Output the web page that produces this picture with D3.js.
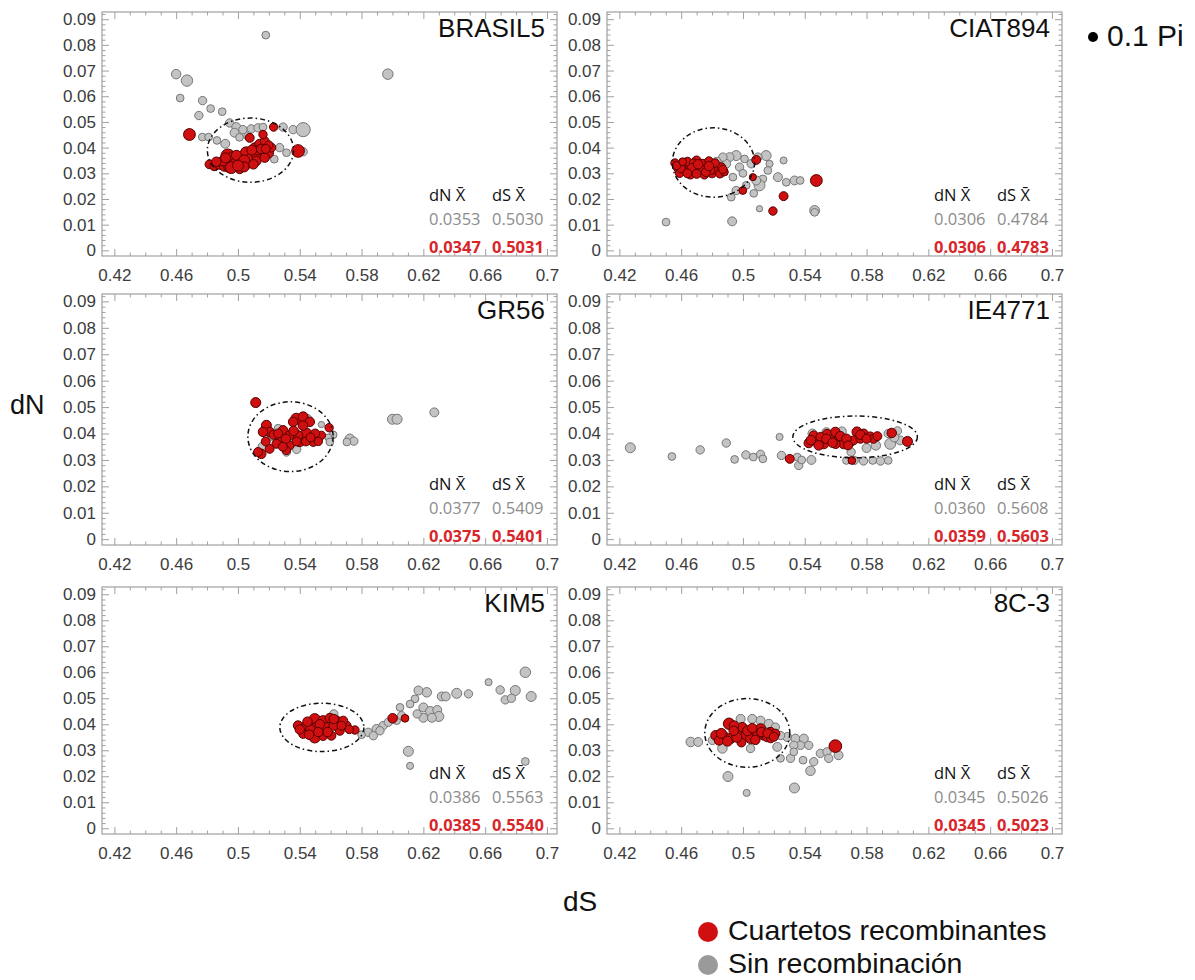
<!DOCTYPE html>
<html>
<head>
<meta charset="utf-8">
<script src="https://cdn.jsdelivr.net/npm/d3@7"></script>
<style>
  html, body { margin: 0; padding: 0; background: #fff; }
  svg { display: block; }
</style>
</head>
<body>
<svg id="chart" width="1195" height="980"></svg>
<script>
// ---------------- DATA ----------------
const panelNames = ["BRASIL5", "CIAT894", "GR56", "IE4771", "KIM5", "8C-3"];

const xTickValues = [0.42, 0.46, 0.50, 0.54, 0.58, 0.62, 0.66, 0.70];
const xTickLabels = ["0.42", "0.46", "0.5", "0.54", "0.58", "0.62", "0.66", "0.7"];
const yTickValues = [0, 0.01, 0.02, 0.03, 0.04, 0.05, 0.06, 0.07, 0.08, 0.09];
const yTickLabels = ["0", "0.01", "0.02", "0.03", "0.04", "0.05", "0.06", "0.07", "0.08", "0.09"];

// [dS, dN, Pi]
const sin_BRASIL5 = [[0.518,0.0838,0.06],[0.597,0.0686,0.11],[0.460,0.0686,0.09],[0.467,0.0661,0.13],[0.4626,0.0593,0.06],[0.4771,0.0583,0.07],[0.4823,0.0552,0.06],[0.4898,0.054,0.06],[0.4747,0.0525,0.07],[0.4769,0.0441,0.06],[0.481,0.0441,0.06],[0.4864,0.0428,0.06],[0.4918,0.0415,0.08],[0.4946,0.0496,0.07],[0.4989,0.048,0.08],[0.5032,0.047,0.07],[0.5086,0.0473,0.07],[0.513,0.0477,0.07],[0.5162,0.048,0.06],[0.5292,0.048,0.07],[0.5357,0.047,0.07],[0.5422,0.047,0.2],[0.4978,0.0458,0.08],[0.5065,0.0445,0.07],[0.527,0.040,0.07],[0.5314,0.038,0.06],[0.5422,0.0384,0.07],[0.4845,0.0325,0.06],[0.5235,0.0355,0.06],[0.5010,0.0440,0.06]];
const rec_BRASIL5 = [[0.4686,0.0451,0.14],[0.5389,0.0387,0.16],[0.5231,0.048,0.07],[0.4816,0.0335,0.08],[0.4849,0.0329,0.09],[0.4881,0.0335,0.1],[0.4914,0.0329,0.12],[0.4946,0.0325,0.14],[0.4935,0.0367,0.2],[0.4968,0.0361,0.14],[0.4989,0.0342,0.12],[0.5022,0.0355,0.1],[0.5054,0.038,0.14],[0.5086,0.0361,0.1],[0.5119,0.0374,0.1],[0.5108,0.040,0.09],[0.5141,0.0413,0.1],[0.5173,0.0425,0.08],[0.5162,0.0451,0.07],[0.5076,0.0438,0.08],[0.5195,0.038,0.12],[0.5216,0.040,0.08],[0.5011,0.0316,0.08],[0.5054,0.0335,0.1],[0.5119,0.0348,0.09],[0.5173,0.0361,0.09],[0.4957,0.0322,0.14],[0.4903,0.0348,0.1],[0.5130,0.0390,0.09],[0.5200,0.0410,0.07],[0.4860,0.0345,0.09],[0.4990,0.0370,0.1],[0.5040,0.0350,0.12],[0.5090,0.0390,0.1],[0.5150,0.0395,0.09],[0.5040,0.0325,0.1],[0.5100,0.0335,0.09],[0.5180,0.0395,0.08],[0.4920,0.0360,0.1],[0.5000,0.0330,0.12]];

const sin_CIAT894 = [[0.4502,0.011,0.06],[0.493,0.0113,0.08],[0.4924,0.0207,0.06],[0.5107,0.0162,0.04],[0.5263,0.035,0.05],[0.5226,0.0285,0.08],[0.528,0.0265,0.06],[0.5334,0.0272,0.08],[0.5464,0.0155,0.1],[0.5464,0.0148,0.06],[0.5129,0.0278,0.06],[0.5172,0.0337,0.05],[0.515,0.0369,0.1],[0.5097,0.0363,0.07],[0.5053,0.0337,0.07],[0.501,0.0356,0.06],[0.4956,0.0369,0.1],[0.4913,0.0363,0.08],[0.4978,0.0324,0.07],[0.4935,0.0285,0.06],[0.4956,0.0233,0.07],[0.5021,0.0253,0.06],[0.5107,0.0253,0.12],[0.5086,0.0272,0.08],[0.5161,0.0311,0.06],[0.4891,0.0337,0.08],[0.487,0.0363,0.07],[0.4830,0.0345,0.08],[0.4620,0.0340,0.06],[0.4700,0.0345,0.07],[0.4860,0.0300,0.07],[0.5000,0.0300,0.06],[0.5070,0.0222,0.06],[0.5370,0.0272,0.06]];
const rec_CIAT894 = [[0.5475,0.0272,0.14],[0.5263,0.0211,0.08],[0.5194,0.0153,0.07],[0.4999,0.0233,0.06],[0.5064,0.0285,0.05],[0.5086,0.0352,0.08],[0.4560,0.0340,0.07],[0.4580,0.0320,0.08],[0.4590,0.0300,0.07],[0.4620,0.0330,0.1],[0.4640,0.0345,0.08],[0.4650,0.0310,0.09],[0.4660,0.0295,0.08],[0.4690,0.0325,0.1],[0.4700,0.0350,0.08],[0.4720,0.0305,0.09],[0.4740,0.0335,0.1],[0.4750,0.0295,0.08],[0.4770,0.0320,0.09],[0.4780,0.0348,0.07],[0.4800,0.0300,0.08],[0.4810,0.0330,0.09],[0.4830,0.0312,0.08],[0.4850,0.0298,0.07],[0.4860,0.0325,0.07],[0.4880,0.0305,0.06],[0.4600,0.0318,0.07],[0.4680,0.0340,0.07],[0.4730,0.0315,0.08],[0.4790,0.0312,0.08],[0.4570,0.0330,0.07],[0.4610,0.0345,0.06],[0.4670,0.0320,0.09],[0.4710,0.0335,0.09],[0.4760,0.0305,0.08],[0.4820,0.0340,0.07],[0.4870,0.0315,0.07],[0.4640,0.0300,0.08],[0.4700,0.0298,0.08],[0.4780,0.0328,0.09]];

const sin_GR56 = [[0.6000,0.0454,0.1],[0.6030,0.0454,0.1],[0.6271,0.048,0.08],[0.5724,0.038,0.09],[0.575,0.0371,0.07],[0.5705,0.0368,0.06],[0.5616,0.0395,0.06],[0.5585,0.0385,0.05],[0.554,0.0434,0.04],[0.5162,0.0349,0.1],[0.5314,0.033,0.07],[0.5595,0.0368,0.06],[0.5220,0.0390,0.07],[0.5450,0.0455,0.08],[0.5520,0.0380,0.07],[0.5260,0.0420,0.06],[0.5380,0.0340,0.07]];
const rec_GR56 = [[0.5115,0.0517,0.1],[0.559,0.0422,0.07],[0.5151,0.0323,0.09],[0.5184,0.0431,0.1],[0.5205,0.0406,0.09],[0.5292,0.0412,0.09],[0.527,0.038,0.08],[0.5335,0.0393,0.09],[0.5378,0.0456,0.12],[0.5422,0.0463,0.1],[0.5443,0.040,0.12],[0.5465,0.0444,0.09],[0.5508,0.038,0.09],[0.554,0.0393,0.07],[0.5335,0.0355,0.08],[0.540,0.0368,0.09],[0.5249,0.0361,0.08],[0.5205,0.0342,0.08],[0.5357,0.0444,0.09],[0.5389,0.0393,0.09],[0.5487,0.0368,0.08],[0.5162,0.0406,0.09],[0.5314,0.0336,0.07],[0.5230,0.0395,0.08],[0.5440,0.0370,0.08],[0.5180,0.0370,0.08],[0.5260,0.0400,0.08],[0.5310,0.0380,0.09],[0.5360,0.0410,0.09],[0.5420,0.0430,0.09],[0.5500,0.0400,0.08],[0.5470,0.0385,0.08],[0.5380,0.0370,0.08],[0.5290,0.0350,0.08],[0.5130,0.0330,0.08],[0.5520,0.0370,0.07]];

const sin_IE4771 = [[0.4271,0.0346,0.1],[0.454,0.0313,0.06],[0.4723,0.0338,0.07],[0.4892,0.0364,0.07],[0.4946,0.0302,0.06],[0.5019,0.0319,0.07],[0.5067,0.0311,0.06],[0.5114,0.0321,0.07],[0.5129,0.0304,0.06],[0.5237,0.0387,0.05],[0.5249,0.0317,0.07],[0.5351,0.0311,0.06],[0.5361,0.0279,0.07],[0.5443,0.030,0.08],[0.5380,0.0300,0.06],[0.5670,0.0298,0.06],[0.5720,0.0298,0.07],[0.5780,0.0296,0.07],[0.5840,0.0298,0.06],[0.5890,0.0296,0.07],[0.5940,0.0298,0.06],[0.5953,0.0361,0.12],[0.6017,0.0374,0.08],[0.5450,0.0400,0.08],[0.5540,0.0405,0.08],[0.5640,0.0408,0.08],[0.5940,0.0400,0.07],[0.6000,0.0410,0.07],[0.5860,0.0355,0.09],[0.5700,0.0330,0.07],[0.5800,0.0345,0.08],[0.5980,0.0385,0.08]];
const rec_IE4771 = [[0.5303,0.0304,0.08],[0.5705,0.0298,0.06],[0.6065,0.037,0.1],[0.5963,0.0402,0.09],[0.5619,0.0384,0.14],[0.5426,0.0364,0.09],[0.548,0.0368,0.09],[0.5523,0.0361,0.1],[0.5566,0.0376,0.09],[0.5652,0.0361,0.1],[0.5695,0.0368,0.09],[0.5738,0.0406,0.1],[0.5781,0.0399,0.09],[0.5824,0.0387,0.1],[0.5845,0.038,0.08],[0.5458,0.0393,0.08],[0.5544,0.0399,0.08],[0.5598,0.0406,0.09],[0.5716,0.0374,0.08],[0.5501,0.0387,0.08],[0.5600,0.0360,0.08],[0.5760,0.0380,0.08],[0.5440,0.0375,0.09],[0.5490,0.0355,0.09],[0.5540,0.0380,0.09],[0.5580,0.0365,0.09],[0.5630,0.0390,0.09],[0.5670,0.0380,0.09],[0.5760,0.0395,0.09],[0.5800,0.0380,0.08],[0.5680,0.0355,0.08],[0.5870,0.0390,0.08]];

const sin_KIM5 = [[0.686,0.060,0.11],[0.6898,0.0507,0.1],[0.6795,0.053,0.1],[0.6697,0.0532,0.07],[0.673,0.0494,0.07],[0.6770,0.0500,0.07],[0.6622,0.0562,0.05],[0.6492,0.0517,0.07],[0.6416,0.0519,0.1],[0.6319,0.0507,0.08],[0.6345,0.0507,0.08],[0.6222,0.0523,0.09],[0.6168,0.053,0.08],[0.6146,0.0498,0.06],[0.6114,0.0478,0.06],[0.6049,0.0465,0.06],[0.6103,0.0296,0.1],[0.6114,0.024,0.05],[0.686,0.0257,0.06],[0.6200,0.0465,0.08],[0.6245,0.0450,0.09],[0.6290,0.0455,0.08],[0.6300,0.0430,0.1],[0.6200,0.0425,0.08],[0.6255,0.0425,0.08],[0.6160,0.0440,0.07],[0.5843,0.0369,0.07],[0.5897,0.0382,0.08],[0.594,0.0395,0.07],[0.5973,0.0408,0.07],[0.6027,0.0414,0.06],[0.6059,0.0433,0.07],[0.5876,0.0356,0.07],[0.5919,0.0375,0.07],[0.5800,0.0360,0.06],[0.5620,0.0440,0.07],[0.5450,0.0405,0.07]];
const rec_KIM5 = [[0.6001,0.0423,0.09],[0.6081,0.0423,0.06],[0.5757,0.0378,0.07],[0.5389,0.0395,0.09],[0.5443,0.0395,0.09],[0.5497,0.042,0.12],[0.5497,0.035,0.13],[0.5551,0.0414,0.1],[0.5573,0.0388,0.09],[0.5638,0.0414,0.09],[0.5659,0.0375,0.08],[0.5703,0.0395,0.08],[0.5422,0.0363,0.08],[0.5551,0.0356,0.09],[0.5605,0.0356,0.08],[0.5508,0.0388,0.1],[0.5595,0.0424,0.09],[0.5681,0.0414,0.08],[0.5470,0.0380,0.09],[0.5620,0.0395,0.09],[0.5400,0.0380,0.09],[0.5450,0.0410,0.09],[0.5530,0.0400,0.09],[0.5580,0.0370,0.09],[0.5620,0.0420,0.09],[0.5670,0.0395,0.08],[0.5520,0.0370,0.09],[0.5460,0.0360,0.09],[0.5720,0.0380,0.07]];

const sin_8C3 = [[0.4662,0.0332,0.09],[0.471,0.0332,0.08],[0.4903,0.0199,0.1],[0.5024,0.0136,0.05],[0.5333,0.0155,0.1],[0.5437,0.0221,0.09],[0.5286,0.0351,0.08],[0.534,0.0345,0.08],[0.5394,0.0345,0.08],[0.5372,0.0319,0.07],[0.5329,0.0319,0.07],[0.5308,0.0269,0.07],[0.5329,0.0294,0.06],[0.5426,0.0319,0.07],[0.5389,0.0262,0.06],[0.5458,0.0256,0.07],[0.5501,0.0288,0.07],[0.5544,0.0294,0.07],[0.5619,0.0281,0.08],[0.5555,0.0269,0.07],[0.5222,0.0313,0.08],[0.5243,0.0269,0.06],[0.5049,0.0307,0.07],[0.4867,0.0307,0.09],[0.4802,0.0338,0.07],[0.4985,0.0421,0.08],[0.506,0.0421,0.08],[0.5114,0.0414,0.08],[0.5168,0.0402,0.08],[0.521,0.0389,0.07],[0.5243,0.0357,0.07]];
const rec_8C3 = [[0.5598,0.0316,0.16],[0.491,0.0402,0.13],[0.5071,0.0366,0.15],[0.4824,0.0357,0.1],[0.4877,0.0351,0.12],[0.492,0.0345,0.1],[0.4963,0.037,0.1],[0.4996,0.0389,0.09],[0.5017,0.0357,0.1],[0.5114,0.0383,0.1],[0.5135,0.0357,0.09],[0.5178,0.037,0.09],[0.521,0.0364,0.08],[0.4942,0.0395,0.09],[0.4845,0.0338,0.09],[0.5049,0.0345,0.1],[0.5092,0.0357,0.09],[0.5157,0.0351,0.09],[0.4990,0.0330,0.08],[0.5180,0.0345,0.07],[0.4860,0.0365,0.1],[0.4900,0.0335,0.1],[0.4960,0.0350,0.1],[0.5030,0.0375,0.1],[0.5080,0.0340,0.09],[0.5120,0.0370,0.09],[0.5160,0.0365,0.09],[0.5200,0.0352,0.08],[0.5060,0.0385,0.09],[0.4940,0.0375,0.09]];

const sinSeries = [sin_BRASIL5, sin_CIAT894, sin_GR56, sin_IE4771, sin_KIM5, sin_8C3];
const recSeries = [rec_BRASIL5, rec_CIAT894, rec_GR56, rec_IE4771, rec_KIM5, rec_8C3];

// cluster ellipse [centre dS, centre dN, radius dS, radius dN]
const ellipses = [[0.5081,0.0390,0.0279,0.0125],[0.4809,0.0342,0.0266,0.0135],[0.5340,0.0388,0.0276,0.0132],[0.5726,0.0387,0.0403,0.0079],[0.5543,0.0388,0.0272,0.0093],[0.5028,0.0367,0.0275,0.0132]];

// mean values  [dN mean, dS mean]
const meanSin = [["0.0353","0.5030"],["0.0306","0.4784"],["0.0377","0.5409"],["0.0360","0.5608"],["0.0386","0.5563"],["0.0345","0.5026"]];
const meanRec = [["0.0347","0.5031"],["0.0306","0.4783"],["0.0375","0.5401"],["0.0359","0.5603"],["0.0385","0.5540"],["0.0345","0.5023"]];

const legendLabels = ["Cuartetos recombinantes", "Sin recombinación"];
const sizeLegend = { value: 0.1, label: "0.1 Pi" };

// ---------------- LAYOUT ----------------
const svg = d3.select("#chart");
const colX = [102, 607];
const frameW = 455;
const rowTop = [12, 294, 587];
const rowH = [244, 251, 247];
const xDomain = [0.4120, 0.7065];
const yDomain = [-0.0022, 0.0928];

const C = {
  gray: "#c3c3c3", grayStroke: "#767676",
  red: "#d01010", redStroke: "#550000",
  frame: "#a0a0a0", tickText: "#3c3c3c",
  meanGray: "#8c8c8c", meanRed: "#d9262b"
};
const rScale = d3.scaleSqrt().domain([0, 0.1]).range([0, 5]);

const labelFont = "'Liberation Sans', Arial, sans-serif";
const statFont = "'Open Sans', 'Noto Sans', sans-serif";

panelNames.forEach((name, i) => {
  const col = i % 2, row = Math.floor(i / 2);
  const x0 = colX[col], y0 = rowTop[row], h = rowH[row];
  const x = d3.scaleLinear().domain(xDomain).range([x0, x0 + frameW]);
  const y = d3.scaleLinear().domain(yDomain).range([y0 + h, y0]);
  const g = svg.append("g");

  g.append("rect").attr("x", x0).attr("y", y0).attr("width", frameW).attr("height", h)
    .attr("fill", "none").attr("stroke", C.frame).attr("stroke-width", 1.2);

  const xMinor = d3.range(0.42, 0.7001, 0.01).filter(v => !xTickValues.some(t => Math.abs(t - v) < 1e-6));
  const yMinor = d3.range(0, 0.0921, 0.002).filter(v => !yTickValues.some(t => Math.abs(t - v) < 1e-6));

  function styleAxis(sel) {
    sel.select(".domain").remove();
    sel.selectAll(".tick line").attr("stroke", C.frame).attr("stroke-width", 1);
  }
  g.append("g").attr("transform", `translate(0,${y0 + h})`)
    .call(d3.axisBottom(x).tickValues(xTickValues).tickSize(-7).tickPadding(13)
      .tickFormat((d, k) => xTickLabels[k]))
    .call(styleAxis)
    .call(s => s.selectAll("text").attr("font-family", labelFont).attr("font-size", 17)
      .attr("fill", C.tickText));
  g.append("g").attr("transform", `translate(0,${y0 + h})`)
    .call(d3.axisBottom(x).tickValues(xMinor).tickSize(-3.5).tickFormat(""))
    .call(styleAxis);
  g.append("g").attr("transform", `translate(0,${y0})`)
    .call(d3.axisTop(x).tickValues(xTickValues).tickSize(-7).tickFormat(""))
    .call(styleAxis);
  g.append("g").attr("transform", `translate(0,${y0})`)
    .call(d3.axisTop(x).tickValues(xMinor).tickSize(-3.5).tickFormat(""))
    .call(styleAxis);
  g.append("g").attr("transform", `translate(${x0},0)`)
    .call(d3.axisLeft(y).tickValues(yTickValues).tickSize(-7).tickPadding(6)
      .tickFormat((d, k) => yTickLabels[k]))
    .call(styleAxis)
    .call(s => s.selectAll("text").attr("font-family", labelFont).attr("font-size", 17)
      .attr("fill", C.tickText));
  g.append("g").attr("transform", `translate(${x0},0)`)
    .call(d3.axisLeft(y).tickValues(yMinor).tickSize(-3.5).tickFormat(""))
    .call(styleAxis);
  g.append("g").attr("transform", `translate(${x0 + frameW},0)`)
    .call(d3.axisRight(y).tickValues(yTickValues).tickSize(-7).tickFormat(""))
    .call(styleAxis);
  g.append("g").attr("transform", `translate(${x0 + frameW},0)`)
    .call(d3.axisRight(y).tickValues(yMinor).tickSize(-3.5).tickFormat(""))
    .call(styleAxis);

  g.append("g").selectAll("circle").data(sinSeries[i]).join("circle")
    .attr("cx", d => x(d[0])).attr("cy", d => y(d[1])).attr("r", d => rScale(d[2]))
    .attr("fill", C.gray).attr("stroke", C.grayStroke).attr("stroke-width", 1);
  g.append("g").selectAll("circle").data(recSeries[i]).join("circle")
    .attr("cx", d => x(d[0])).attr("cy", d => y(d[1])).attr("r", d => rScale(d[2]))
    .attr("fill", C.red).attr("stroke", C.redStroke).attr("stroke-width", 1);

  const e = ellipses[i];
  g.append("ellipse")
    .attr("cx", x(e[0])).attr("cy", y(e[1]))
    .attr("rx", x(e[0] + e[2]) - x(e[0])).attr("ry", y(e[1]) - y(e[1] + e[3]))
    .attr("fill", "none").attr("stroke", "#111").attr("stroke-width", 1.5)
    .attr("stroke-dasharray", "5,3,1.5,3");

  g.append("text").attr("x", x0 + frameW - 12).attr("y", y0 + 25)
    .attr("text-anchor", "end").attr("font-family", labelFont).attr("font-size", 26)
    .attr("fill", "#111").text(name);

  const right = x0 + frameW;
  const yb = y0 + h;
  const cols = [right - 128, right - 65];
  const heads = ["dN X\u0304", "dS X\u0304"];
  cols.forEach((cx, k) => {
    g.append("text").attr("x", cx).attr("y", yb - 55).attr("font-family", statFont)
      .attr("font-size", 16.5).attr("fill", "#111").text(heads[k]);
    g.append("text").attr("x", cx).attr("y", yb - 31).attr("font-family", statFont)
      .attr("font-size", 16.5).attr("fill", C.meanGray).text(meanSin[i][k]);
    g.append("text").attr("x", cx).attr("y", yb - 3).attr("font-family", statFont)
      .attr("font-size", 16.5).attr("font-weight", "bold").attr("fill", C.meanRed).text(meanRec[i][k]);
  });
});

svg.append("text").attr("x", 10).attr("y", 414).attr("font-family", labelFont)
  .attr("font-size", 27).attr("fill", "#111").text("dN");
svg.append("text").attr("x", 563).attr("y", 911).attr("font-family", labelFont)
  .attr("font-size", 28).attr("fill", "#111").text("dS");

svg.append("circle").attr("cx", 1093).attr("cy", 37).attr("r", rScale(sizeLegend.value)).attr("fill", "#000");
svg.append("text").attr("x", 1107).attr("y", 46).attr("font-family", labelFont)
  .attr("font-size", 30).attr("fill", "#111").text(sizeLegend.label);

const legColors = [C.red, "#9a9a9a"];
legendLabels.forEach((lab, k) => {
  const cy = 932 + k * 33;
  svg.append("circle").attr("cx", 708).attr("cy", cy).attr("r", 10).attr("fill", legColors[k]);
  svg.append("text").attr("x", 728).attr("y", cy + 8).attr("font-family", labelFont)
    .attr("font-size", 28.5).attr("fill", "#111").text(lab);
});
</script>
</body>
</html>
